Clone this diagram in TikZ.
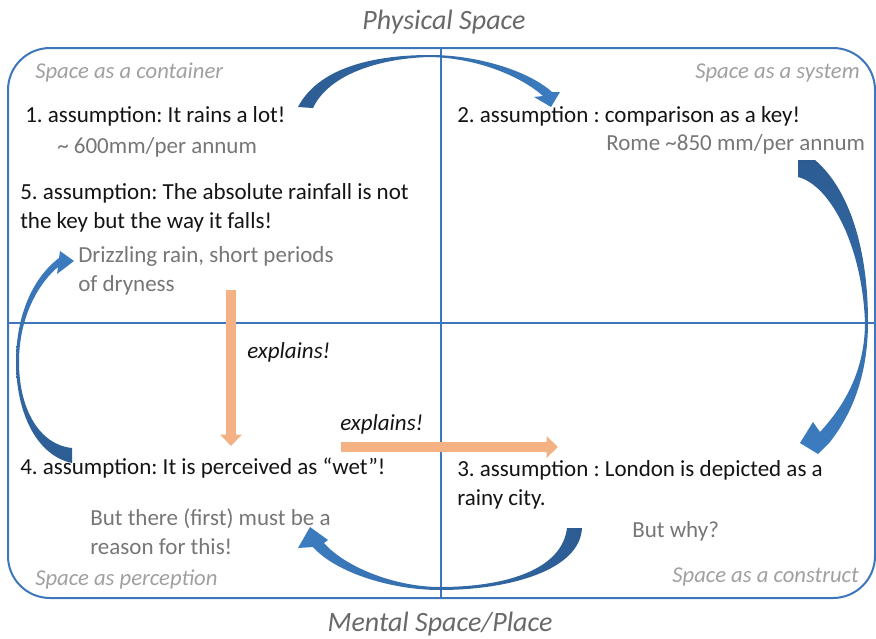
\documentclass[tikz,border=0pt]{standalone}
\usepackage{fontspec}
\setmainfont{Carlito}
\usetikzlibrary{arrows.meta}
\frenchspacing

\definecolor{frameblue}{RGB}{61,118,186}
\definecolor{arrowdark}{RGB}{44,92,146}
\definecolor{arrowlight}{RGB}{60,124,192}
\definecolor{explainorange}{RGB}{244,177,131}
\definecolor{notegray}{RGB}{118,118,118}
\definecolor{labelgray}{RGB}{160,160,160}
\definecolor{titlegray}{RGB}{105,105,105}

\tikzset{
  maintext/.style={anchor=base west, inner sep=0pt, align=left,
    font=\fontsize{17.25pt}{21.75pt}\selectfont, text=black!92},
  notetext/.style={maintext, text=notegray},
  cornerlabel/.style={anchor=base west, inner sep=0pt,
    font=\fontsize{17pt}{21pt}\selectfont\itshape, text=labelgray},
  spacetitle/.style={anchor=base, inner sep=0pt,
    font=\fontsize{21pt}{25pt}\selectfont\itshape, text=titlegray},
  explaintext/.style={anchor=base west, inner sep=0pt,
    font=\fontsize{17.25pt}{21pt}\selectfont\itshape, text=black!92},
  explainarrow/.style={draw=explainorange, line width=7.1pt,
    -{Triangle[length=8.5pt,width=15.75pt]}},
  gridline/.style={draw=frameblue, line width=1.5pt},
}

\begin{document}
\begin{tikzpicture}[x=0.75pt,y=-0.75pt]
\useasboundingbox (0,0) rectangle (876,639);

% quadrant frame
\draw[gridline, rounded corners=31.5pt] (8,48) rectangle (875,598);
\draw[gridline] (441,48) -- (441,598);
\draw[gridline] (8,323) -- (875,323);

% axis titles
\node[spacetitle] (physical) at (444,30) {Physical Space};
\node[spacetitle] (mental) at (440,631) {Mental Space/Place};

% quadrant labels
\node[cornerlabel] (container) at (35,78) {Space as a container};
\node[cornerlabel, anchor=base east] (system) at (860,78) {Space as a system};
\node[cornerlabel] (perception) at (35,585) {Space as perception};
\node[cornerlabel, anchor=base east] (construct) at (859,582) {Space as a construct};

% assumptions and notes (multi-line nodes sit on their last baseline)
\node[maintext] (a1) at (25,122) {1. assumption: It rains a lot!};
\node[notetext] (n1) at (57,153) {\textasciitilde{} 600mm/per annum};
\node[maintext] (a2) at (457,122) {2. assumption : comparison as a key!};
\node[notetext] (n2) at (606,150) {Rome \textasciitilde850 mm/per annum};
\node[maintext] (a5) at (20,228) {5. assumption: The absolute rainfall is not\\the key but the way it falls!};
\node[notetext] (n5) at (78,291) {Drizzling rain, short periods\\of dryness};
\node[maintext] (a4) at (20,474) {4. assumption: It is perceived as “wet”!};
\node[notetext] (n4) at (90,554) {But there (first) must be a\\reason for this!};
\node[maintext] (a3) at (457,505) {3. assumption : London is depicted as a\\rainy city.};
\node[notetext] (n3) at (632,537) {But why?};

% explanation arrows
\coordinate (drizzlefoot) at (231,290);
\coordinate (wethead) at (231,446);
\coordinate (wetfoot) at (341,447);
\coordinate (rainyhead) at (558,447);
\draw[explainarrow] (drizzlefoot) -- (wethead);
\draw[explainarrow] (wetfoot) -- (rainyhead);
\node[explaintext] (ex1) at (247,358) {explains!};
\node[explaintext] (ex2) at (340,430) {explains!};

% curved arrow 1 -> 2 (top)
\shade[left color=arrowdark, right color=arrowlight]
  (298,107) .. controls (320,65) and (380,55) .. (430,55)
  .. controls (480,55) and (530,72) .. (552,92)
  -- (560,92) -- (551,107) -- (534,97) -- (543,96)
  .. controls (522,77) and (478,58) .. (430,57)
  .. controls (385,58) and (330,72) .. (313,108) -- cycle;

% curved arrow 2 -> 3 (right)
\shade[top color=arrowdark, bottom color=arrowlight]
  (815,160) .. controls (850,190) and (868,250) .. (868,322)
  .. controls (868,370) and (855,410) .. (830,442)
  -- (818,454) -- (800,443) -- (813,422) -- (820,432)
  .. controls (845,405) and (865,370) .. (865,322)
  .. controls (862,245) and (830,185) .. (798,177)
  -- (798,160) -- cycle;

% curved arrow 3 -> 4 (bottom)
\shade[left color=arrowlight, right color=arrowdark]
  (582,528) .. controls (580,570) and (510,590) .. (440,590)
  .. controls (390,590) and (335,572) .. (313,547)
  -- (298,548) -- (310,527) -- (328,540) -- (324,543)
  .. controls (345,567) and (395,587) .. (440,587)
  .. controls (505,587) and (562,570) .. (567,528) -- cycle;

% curved arrow 4 -> 5 (left)
\shade[top color=arrowlight, bottom color=arrowdark]
  (72,463) .. controls (35,455) and (16,410) .. (16,362)
  .. controls (16,320) and (30,280) .. (59,258)
  -- (60,251) -- (74,261) -- (57,274) -- (58,267)
  .. controls (40,282) and (19,315) .. (19,362)
  .. controls (19,410) and (40,445) .. (72,448) -- cycle;

\end{tikzpicture}
\end{document}
